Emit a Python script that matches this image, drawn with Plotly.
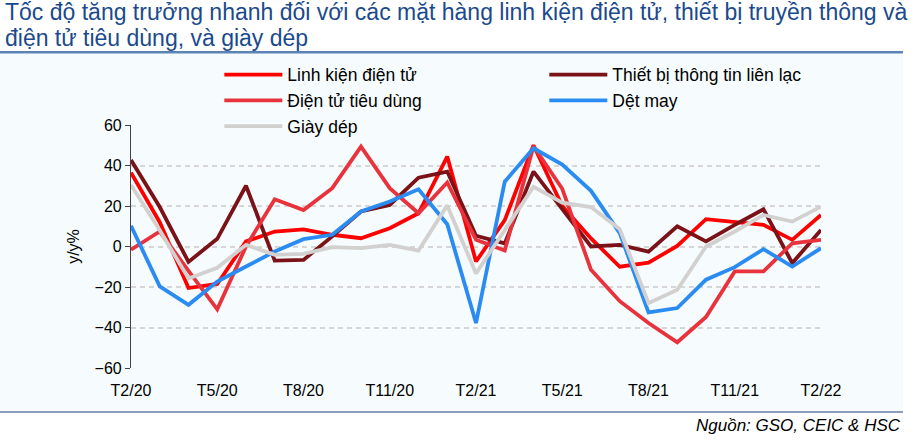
import plotly.graph_objects as go

# month labels (Vietnamese short form), one per data point
months = ['T2/20', 'T3/20', 'T4/20', 'T5/20', 'T6/20', 'T7/20', 'T8/20', 'T9/20',
          'T10/20', 'T11/20', 'T12/20', 'T1/21', 'T2/21', 'T3/21', 'T4/21', 'T5/21',
          'T6/21', 'T7/21', 'T8/21', 'T9/21', 'T10/21', 'T11/21', 'T12/21', 'T1/22',
          'T2/22']

linh_kien = [36.5, 12, -20.5, -18.5, 2.5, 7.4, 8.5, 5.8, 4.1, 9, 16.4, 44.4, -7.4,
             13, 50, 20, 4, -10, -8, 0.3, 13.5, 12.3, 10.7, 3.3, 15.6]
thiet_bi = [42.7, 19.5, -7.6, 3.8, 30, -7, -6.6, 5, 17.3, 20.5, 34, 37, 5.3,
            1.5, 37, 18.5, 0, 0.8, -2.5, 10, 2.5, 10.7, 18.4, -8.2, 8.2]
dien_tu_td = [-1.6, 7.4, -12, -31, 0, 23.3, 18, 28.8, 49.3, 28.8, 16.4, 31.6, 3.3,
              -2, 49.5, 28.5, -11.5, -27, -37.8, -47.3, -34.8, -12.3, -12.3, 1.6, 3.3]
det_may = [10.2, -19.7, -28.8, -17.3, -9.9, -2.5, 3.6, 5.8, 17.3, 22.2, 28.3, 11, -37.8,
           32, 48.5, 40.5, 27.5, 6.6, -32.5, -30.4, -16.4, -10.2, -1.3, -9.9, -0.8]
giay_dep = [30.4, 8, -15.8, -10.5, 0.8, -4.1, -3.6, -0.3, -0.8, 0.8, -2, 20.3, -13.3,
            8, 29.5, 21.7, 19.5, 8.5, -28, -21.4, 0, 7.4, 15.6, 12.3, 19.7]

series = [
    ('Linh kiện điện tử', linh_kien, '#FF0000'),
    ('Thiết bị thông tin liên lạc', thiet_bi, '#7A1217'),
    ('Điện tử tiêu dùng', dien_tu_td, '#E8323C'),
    ('Dệt may', det_may, '#2A8CF2'),
    ('Giày dép', giay_dep, '#D3D0D0'),
]

title_lines = ['Tốc độ tăng trưởng nhanh đối với các mặt hàng linh kiện điện tử, '
               'thiết bị truyền thông và',
               'điện tử tiêu dùng, và giày dép']

idx = list(range(len(months)))
PANEL = '#F6FCFD'
TITLE_BLUE = '#1B4A8C'

fig = go.Figure()
for name, values, color in series:
    fig.add_trace(go.Scatter(x=idx, y=values, name=name, mode='lines',
                             line=dict(color=color, width=3.8)))

fig.update_layout(
    width=922, height=443,
    margin=dict(l=131, r=101, t=125, b=75, autoexpand=False),
    paper_bgcolor='white',
    plot_bgcolor='rgba(0,0,0,0)',
    font=dict(family='Liberation Sans, Arial, sans-serif', color='black', size=16),
    legend=dict(orientation='h', x=0.128, y=1.281, xanchor='left', yanchor='top',
                bgcolor='rgba(0,0,0,0)', entrywidth=252, itemwidth=58,
                font=dict(size=17.5)),
    xaxis=dict(range=[0, len(months) - 1], tickmode='array',
               tickvals=idx[::3], ticktext=months[::3], ticks='',
               showgrid=False, zeroline=False, showline=False,
               ticklabelstandoff=11, tickfont=dict(size=16)),
    xaxis2=dict(overlaying='x', anchor='free', position=0.5, side='bottom',
                range=[0, len(months) - 1], tickmode='array', tickvals=idx[1::2],
                ticks='outside', ticklen=5, tickwidth=1.2, tickcolor='#444',
                showticklabels=False, showgrid=False, zeroline=False,
                showline=True, linecolor='#555', linewidth=1.5),
    yaxis=dict(range=[-60, 60], dtick=20, ticks='outside', ticklen=5,
               tickcolor='#444', showline=True, linecolor='#444', linewidth=1.2,
               showgrid=True, gridcolor='#D6D6D6', griddash='5px,4px', gridwidth=1.5,
               zeroline=False, tickfont=dict(size=16),
               title=dict(text='y/y%', standoff=10, font=dict(size=16))),
    showlegend=True,
)

# light panel behind the chart, title underline and bottom rule
fig.add_shape(type='rect', xref='paper', yref='paper', x0=-0.19, x1=1.1188,
              y0=-0.181, y1=1.296, fillcolor=PANEL, line_width=0, layer='below')
fig.add_shape(type='line', xref='paper', yref='paper', x0=-0.19, x1=1.1188,
              y0=1.2995, y1=1.2995, line=dict(color='#5B83B5', width=2.5))
fig.add_shape(type='line', xref='paper', yref='paper', x0=-0.19, x1=1.1188,
              y0=-0.181, y1=-0.181, line=dict(color='#1F3E7C', width=1.2))

for line_text, ypos in zip(title_lines, [1.463, 1.356]):
    fig.add_annotation(text=line_text, xref='paper', yref='paper', x=-0.186, y=ypos,
                       xanchor='left', yanchor='middle', showarrow=False,
                       font=dict(size=23, color=TITLE_BLUE))

fig.add_annotation(text='<i>Nguồn: GSO, CEIC & HSC</i>', xref='paper', yref='paper',
                   x=1.1185, y=-0.235, xanchor='right', yanchor='middle',
                   showarrow=False, font=dict(size=17, color='black'))

fig.write_html('out.html', config={'displayModeBar': False},
               post_script="document.body.style.margin = '0';")
